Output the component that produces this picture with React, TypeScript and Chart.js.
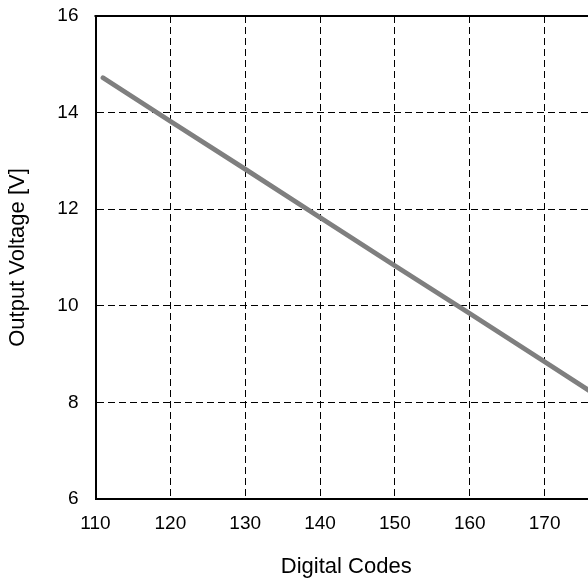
import React, { useEffect, useRef } from "react";
import { Chart, registerables } from "chart.js";

Chart.register(...registerables);

const codes = [111, 120, 130, 140, 150, 160, 170, 177];
const volts = [14.72, 13.82, 12.83, 11.83, 10.83, 9.84, 8.84, 8.14];
const xMin = 110;
const xMax = 177;
const yMin = 6;
const yMax = 16;
const xStep = 10;
const yStep = 2;
const xTitle = "Digital Codes";
const yTitle = "Output Voltage [V]";

const FONT = "'Liberation Sans', Arial, sans-serif";

const frameTop = {
  id: "frameTop",
  afterDraw(chart: any) {
    const { ctx, chartArea } = chart;
    ctx.save();
    ctx.strokeStyle = "#000000";
    ctx.lineWidth = 2;
    ctx.beginPath();
    ctx.moveTo(chartArea.left - 1, chartArea.top);
    ctx.lineTo(chartArea.right + 1, chartArea.top);
    ctx.stroke();
    ctx.restore();
  },
};

export default function App() {
  const ref = useRef<HTMLCanvasElement | null>(null);

  useEffect(() => {
    document.body.style.margin = "0";
    document.documentElement.style.overflow = "hidden";
    document.body.style.overflow = "hidden";
    if (!ref.current) return;
    const grid = {
      color: "#000000",
      lineWidth: 1,
      drawTicks: false,
    };
    const border = { display: true, color: "#000000", width: 2, dash: [7, 4] };
    const chart = new Chart(ref.current, {
      type: "scatter",
      data: {
        datasets: [
          {
            data: codes.map((c, i) => ({ x: c, y: volts[i] })),
            showLine: true,
            borderColor: "#7f7f7f",
            backgroundColor: "#7f7f7f",
            borderWidth: 4.8,
            borderCapStyle: "round",
            pointRadius: 0,
            tension: 0,
          },
        ],
      },
      options: {
        animation: false,
        responsive: false,
        devicePixelRatio: 1,
        layout: { padding: { left: 0, top: 16, right: 13, bottom: 0 } },
        plugins: { legend: { display: false }, tooltip: { enabled: false } },
        scales: {
          x: {
            type: "linear",
            position: "bottom",
            min: xMin,
            max: xMax,
            grid: grid as any,
            border: border as any,
            ticks: {
              stepSize: xStep,
              includeBounds: false,
              padding: 13,
              color: "#000000",
              font: { family: FONT, size: 19 },
              maxRotation: 0,
            },
            title: {
              display: true,
              text: xTitle,
              color: "#000000",
              font: { family: FONT, size: 22 },
              padding: { top: 0, bottom: 3 },
            },
            afterFit: (s: any) => {
              s.height = 84;
              s.paddingLeft = 0;
              s.paddingRight = 0;
            },
          },
          y: {
            type: "linear",
            position: "left",
            min: yMin,
            max: yMax,
            grid: grid as any,
            border: border as any,
            ticks: {
              stepSize: yStep,
              padding: 17,
              color: "#000000",
              font: { family: FONT, size: 19 },
            },
            title: {
              display: true,
              text: yTitle,
              color: "#000000",
              font: { family: FONT, size: 22 },
              padding: { top: 5, bottom: 0 },
            },
            afterFit: (s: any) => {
              s.width = 95.5;
              s.paddingTop = 0;
              s.paddingBottom = 0;
            },
          },
        },
      } as any,
      plugins: [frameTop],
    });
    return () => chart.destroy();
  }, []);

  return (
    <div style={{ width: 588, height: 583, overflow: "hidden" }}>
      <canvas ref={ref} width={610} height={583} style={{ display: "block", width: 610, height: 583 }} />
    </div>
  );
}
